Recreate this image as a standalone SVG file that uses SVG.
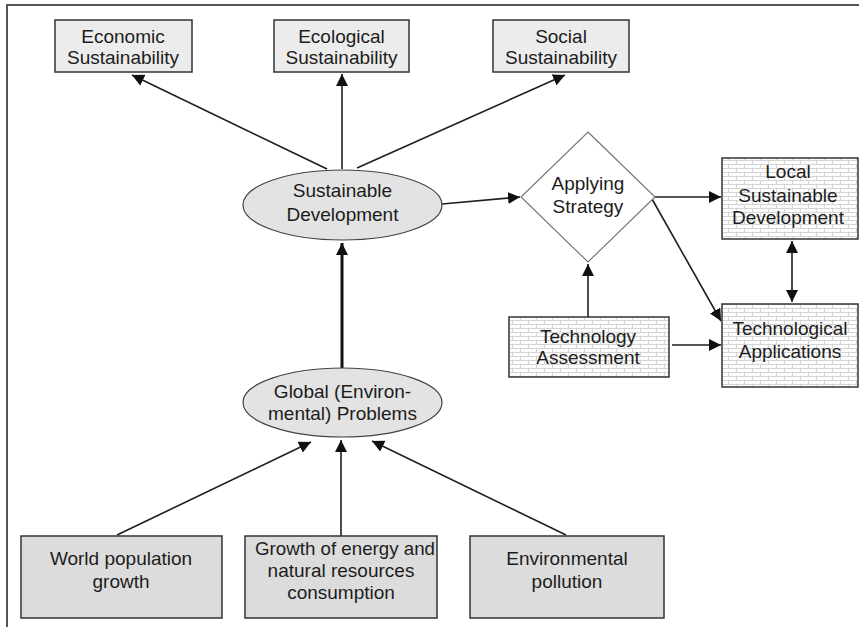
<svg xmlns="http://www.w3.org/2000/svg" width="859" height="627" viewBox="0 0 859 627">
<style>
text{font-family:"Liberation Sans",Arial,sans-serif;font-size:19px;fill:#1c1c1c;text-anchor:middle}
.top{fill:#ececec;stroke:#333;stroke-width:1.5}
.ell{fill:#e3e3e3;stroke:#444;stroke-width:1.2}
.bot{fill:#dcdcdc;stroke:#333;stroke-width:1.5}
.brick{fill:url(#brick);stroke:#333;stroke-width:1.5}
.dia{fill:#fff;stroke:#777;stroke-width:1.2}
.c{stroke:#1e1e1e;stroke-width:1.6;fill:none;marker-end:url(#ah)}
.frame{stroke:#555;stroke-width:2;fill:none}
</style>
<defs>
<marker id="ah" viewBox="0 0 10 10" refX="10" refY="5" markerWidth="12" markerHeight="12" markerUnits="userSpaceOnUse" orient="auto-start-reverse">
<path d="M0,0 L10,5 L0,10 z" fill="#111"/>
</marker>
<pattern id="brick" width="16" height="8" patternUnits="userSpaceOnUse">
<rect width="16" height="8" fill="#fcfcfc"/>
<path d="M0,0.5 H16 M0,4.5 H16 M0.5,0.5 V4.5 M8.5,4.5 V8.5" stroke="#d4d4d4" stroke-width="1" fill="none"/>
</pattern>
</defs>
<rect width="859" height="627" fill="#fff"/>
<path class="frame" d="M7,627 V5 H859"/>

<g id="connectors">
<line class="c" x1="327" y1="169" x2="132" y2="75"/>
<line class="c" x1="342" y1="169" x2="342" y2="74"/>
<line class="c" x1="357" y1="168" x2="565" y2="75"/>
<line x1="342" y1="368" x2="342" y2="243" stroke="#111" stroke-width="3" marker-end="url(#ah)"/>
<line class="c" x1="442" y1="204" x2="520" y2="197"/>
<line class="c" x1="655" y1="197" x2="721" y2="197"/>
<line class="c" x1="652" y1="199" x2="721" y2="321"/>
<line class="c" x1="588" y1="317" x2="588" y2="264"/>
<line class="c" x1="672" y1="345" x2="721" y2="345"/>
<line class="c" x1="792" y1="241" x2="792" y2="302" marker-start="url(#ah)"/>
<line class="c" x1="117" y1="535" x2="311" y2="442"/>
<line class="c" x1="341" y1="536" x2="341" y2="440"/>
<line class="c" x1="566" y1="535" x2="372" y2="441"/>
</g>

<g id="economic"><rect class="top" x="55" y="20" width="137" height="52"/><text x="123" y="43">Economic</text><text x="123" y="64">Sustainability</text></g>
<g id="ecological"><rect class="top" x="274" y="20" width="135" height="52"/><text x="341.5" y="43">Ecological</text><text x="341.5" y="64">Sustainability</text></g>
<g id="social"><rect class="top" x="493" y="20" width="136" height="52"/><text x="561" y="43">Social</text><text x="561" y="64">Sustainability</text></g>

<g id="sustainable-development"><ellipse class="ell" cx="342.5" cy="205" rx="99.5" ry="35"/><text x="342.5" y="197">Sustainable</text><text x="342.5" y="221">Development</text></g>
<g id="global-problems"><ellipse class="ell" cx="342.5" cy="402.5" rx="99.5" ry="34.5"/><text x="342.5" y="398">Global (Environ-</text><text x="342.5" y="420">mental) Problems</text></g>

<g id="applying-strategy"><path class="dia" d="M588,132 L655,197 L588,262 L521,197 z"/><text x="588" y="190">Applying</text><text x="588" y="213">Strategy</text></g>

<g id="local-sd"><rect class="brick" x="722" y="158" width="136" height="81"/><text x="788" y="178">Local</text><text x="788" y="202">Sustainable</text><text x="788" y="224">Development</text></g>
<g id="tech-applications"><rect class="brick" x="722" y="304" width="136" height="83"/><text x="790" y="335">Technological</text><text x="790" y="358">Applications</text></g>
<g id="tech-assessment"><rect class="brick" x="509" y="317" width="160" height="60"/><text x="588" y="343">Technology</text><text x="588" y="364">Assessment</text></g>

<g id="world-population"><rect class="bot" x="21" y="536" width="201" height="82"/><text x="121" y="565">World population</text><text x="121" y="588">growth</text></g>
<g id="energy-growth"><rect class="bot" x="245" y="536" width="192" height="82"/><text x="345" y="555" textLength="180" lengthAdjust="spacingAndGlyphs">Growth of energy and</text><text x="341" y="577">natural resources</text><text x="341" y="599">consumption</text></g>
<g id="environmental-pollution"><rect class="bot" x="470" y="536" width="194" height="82"/><text x="567" y="565">Environmental</text><text x="567" y="588">pollution</text></g>
</svg>
